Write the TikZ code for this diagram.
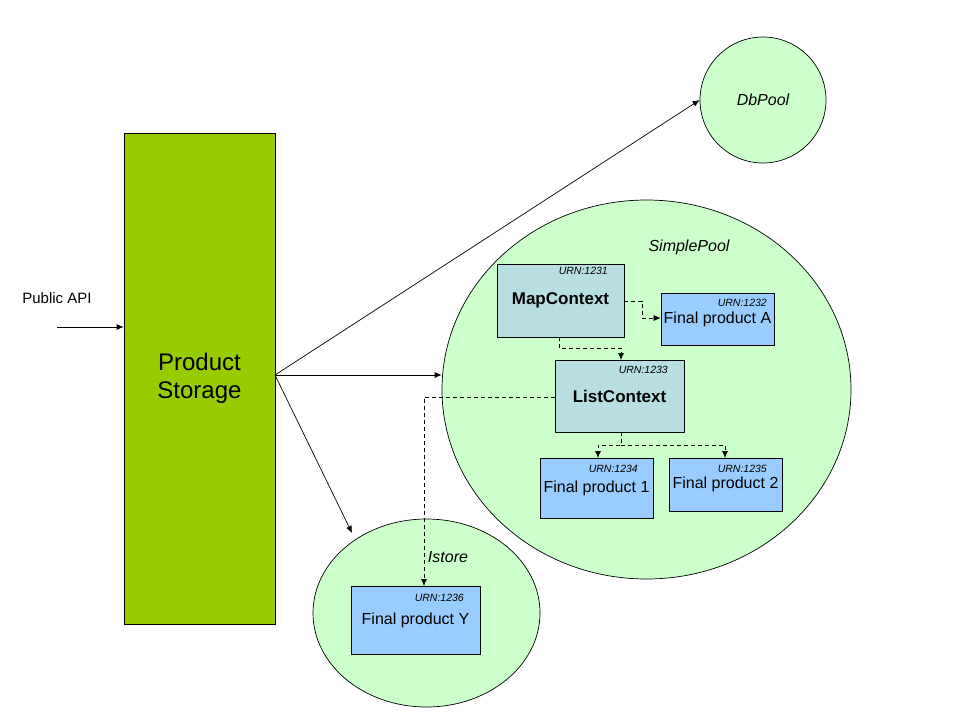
\documentclass[tikz,border=0pt]{standalone}
\usepackage{fontspec}
\setmainfont{Liberation Sans}
\usetikzlibrary{arrows.meta,shapes.geometric}

\definecolor{poolgreen}{HTML}{CCFFCC}
\definecolor{storegreen}{HTML}{99CC00}
\definecolor{ctxteal}{HTML}{B7DEE0}
\definecolor{prodblue}{HTML}{99CCFF}

\begin{document}
\begin{tikzpicture}[x=1pt,y=-1pt,
  pool/.style={ellipse, draw=black, fill=poolgreen, line width=0.7pt, inner sep=0},
  poolname/.style={font=\fontsize{16}{19}\selectfont\itshape},
  storebox/.style={rectangle, draw=black, fill=storegreen, line width=0.7pt, inner sep=0,
    align=center, font=\fontsize{24}{28}\selectfont},
  ctxbox/.style={rectangle, draw=black, fill=ctxteal, line width=0.7pt, inner sep=0,
    font=\fontsize{17}{20}\selectfont\bfseries},
  prodbox/.style={rectangle, draw=black, fill=prodblue, line width=0.7pt, inner sep=0,
    font=\fontsize{16}{19}\selectfont},
  urn/.style={anchor=east, inner sep=0, font=\fontsize{10.5}{12}\selectfont\itshape},
  link/.style={-{Latex[length=7pt,width=6pt]}, line width=0.7pt},
  dlink/.style={link, dash pattern=on 4pt off 3pt}]

\useasboundingbox (0,0) rectangle (960,720);

% pools
\node[pool, minimum width=126, minimum height=126] (db) at (763,100) {};
\node[poolname] (dbname) at (763,100) {DbPool};
\node[pool, minimum width=409, minimum height=379] (sp) at (646.5,389.5) {};
\node[poolname] (spname) at (689,247) {SimplePool};
\node[pool, minimum width=227, minimum height=188] (is) at (426.5,613) {};
\node[poolname] (isname) at (448,557) {Istore};

% product storage and its entry point
\node[storebox, minimum width=151, minimum height=491] (ps) at (199.5,378.5) {Product\\Storage};
\node[font=\fontsize{15}{18}\selectfont] (api) at (57,298) {Public API};
\coordinate (apiin) at (57,327);
\draw[link] (apiin) -- (apiin -| ps.west);

% contexts
\node[ctxbox, minimum width=127, minimum height=73] (map) at (560.5,300.5) {MapContext};
\node[urn] (urn1) at (608,271) {URN:1231};
\node[ctxbox, minimum width=129, minimum height=72] (list) at (619.5,396) {ListContext};
\node[urn] (urn3) at (668,370) {URN:1233};

% final products
\node[prodbox, minimum width=113, minimum height=52] (fa) at (717.5,319) {Final product A};
\node[urn] (urn2) at (767,303) {URN:1232};
\node[prodbox, minimum width=113, minimum height=60] (f1) at (596.5,488) {Final product 1};
\node[urn] (urn4) at (638,469) {URN:1234};
\node[prodbox, minimum width=113, minimum height=53] (f2) at (725.5,484.5) {Final product 2};
\node[urn] (urn5) at (767,469) {URN:1235};
\node[prodbox, minimum width=129, minimum height=68] (fy) at (415.5,620) {Final product Y};
\node[urn] (urn6) at (464,598) {URN:1236};

% storage links
\coordinate (hub) at (275,375);
\coordinate (isin) at (352,533);
\draw[link] (hub) -- (db.west);
\draw[link] (hub) -- (hub -| sp.west);
\draw[link] (hub) -- (isin);

% context links
\draw[dlink] (map.east |- 0,301) -| (642,318) -- (fa.west |- 0,318);
\draw[dlink] (559,337) |- (621,348) -- (621,360);
\draw[dlink] (list.west |- 0,397) -| (424,586);
\draw[dlink] (621,432) |- (598,445) -- (598,458);
\draw[dlink] (621,445) -| (725,458);

\end{tikzpicture}
\end{document}
